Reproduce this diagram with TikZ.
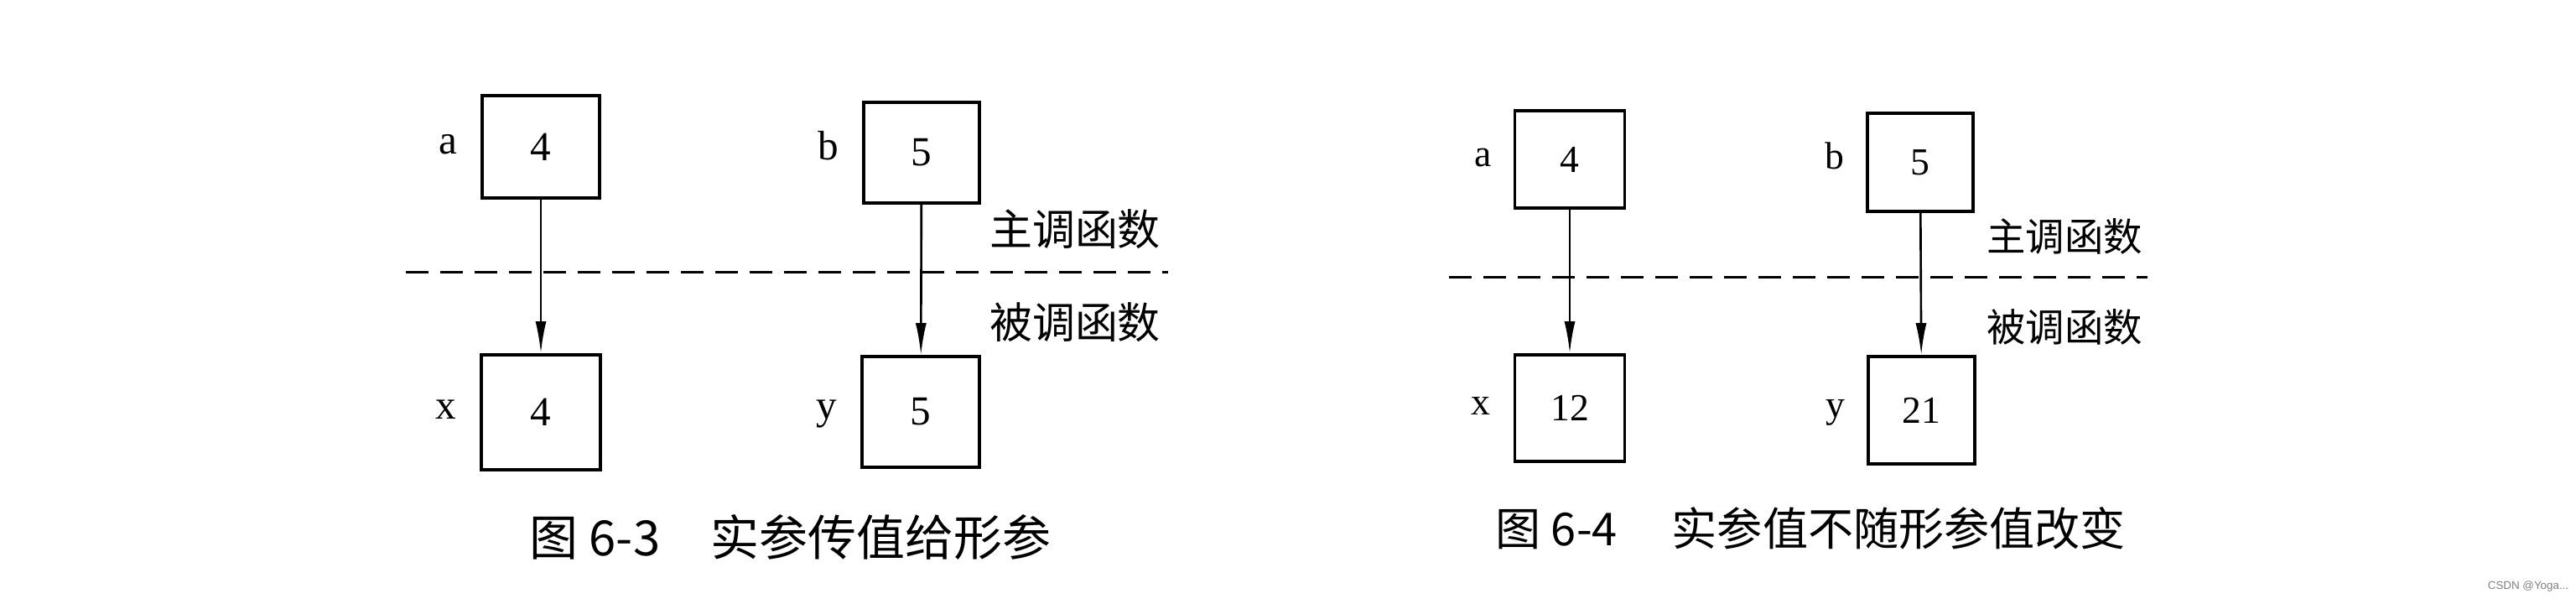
\documentclass[tikz,border=0pt]{standalone}
\usepackage{fontspec}
\setmainfont{Liberation Serif}
\newfontfamily\cjk{Noto Sans CJK SC}
\newfontfamily\wmark{Liberation Sans}
\usetikzlibrary{arrows.meta,positioning}

\begin{document}
\begin{tikzpicture}[
    font=\fontsize{14pt}{16pt}\selectfont,
    cell/.style={draw, line width=1.05pt, minimum width=1.4cm, minimum height=1.22cm, inner sep=0pt},
    tag/.style={inner sep=0pt, text height=1ex, text depth=0pt},
    pass/.style={-{Latex[length=3.8mm,width=1.3mm]}, line width=0.75pt},
    split/.style={dash pattern=on 0.27cm off 0.14cm, line width=0.85pt},
    side/.style={font=\cjk\fontsize{14.5pt}{16pt}\selectfont, inner sep=0pt},
    caption/.style={font=\cjk\fontsize{16.5pt}{18pt}\selectfont, inner sep=0pt, anchor=west}
]
\useasboundingbox (0,0) rectangle (30.72,7.2);

\node[cell] (a) at (6.45,5.45) {4};
\node[cell, minimum width=1.38cm, minimum height=1.2cm] (b) at (10.99,5.38) {5};
\node[cell, minimum width=1.42cm, minimum height=1.37cm] (x) at (6.45,2.285) {4};
\node[cell, minimum height=1.32cm] (y) at (10.98,2.29) {5};
\node[tag, left=0.27cm of a] (alab) {a};
\node[tag, left=0.27cm of b] (blab) {b};
\node[tag, left=0.27cm of x] (xlab) {x};
\node[tag, left=0.27cm of y] (ylab) {y};

\draw[pass] (a) -- (x);
\draw[pass] (b) -- (y);

\coordinate (cutl) at (4.84,3.95);
\coordinate (cutr) at (13.93,3.95);
\draw[split] (cutl) -- (cutr);
\node[side] (main) at (12.82,4.47) {主调函数};
\node[side] (callee) at (12.82,3.36) {被调函数};
\node[caption] (cap3) at (6.31,0.80) {图 6-3\hspace{0.6cm}实参传值给形参};

\begin{scope}[font=\fontsize{13pt}{15pt}\selectfont]
\node[cell, minimum width=1.31cm, minimum height=1.16cm] (a2) at (18.72,5.30) {4};
\node[cell, minimum width=1.26cm, minimum height=1.17cm] (b2) at (22.90,5.265) {5};
\node[cell, minimum width=1.31cm, minimum height=1.27cm] (x2) at (18.72,2.335) {12};
\node[cell, minimum width=1.27cm, minimum height=1.28cm] (y2) at (22.915,2.31) {21};
\node[tag, left=0.25cm of a2] (alab2) {a};
\node[tag, left=0.25cm of b2] (blab2) {b};
\node[tag, left=0.27cm of x2] (xlab2) {x};
\node[tag, left=0.25cm of y2] (ylab2) {y};
\end{scope}

\draw[pass] (a2) -- (x2);
\draw[pass] (b2) -- (y2);

\coordinate (cutl2) at (17.28,3.89);
\coordinate (cutr2) at (25.61,3.89);
\draw[split] (cutl2) -- (cutr2);
\node[side, font=\cjk\fontsize{13.2pt}{15pt}\selectfont] (main2) at (24.62,4.38) {主调函数};
\node[side, font=\cjk\fontsize{13.2pt}{15pt}\selectfont] (callee2) at (24.62,3.30) {被调函数};
\node[caption, font=\cjk\fontsize{15.4pt}{17pt}\selectfont] (cap4) at (17.83,0.90) {图 6-4\hspace{0.65cm}实参值不随形参值改变};

\node[font=\wmark\fontsize{3.8pt}{4pt}\selectfont, text=gray] (mark) at (30.15,0.21) {CSDN @Yoga...};

\end{tikzpicture}
\end{document}
